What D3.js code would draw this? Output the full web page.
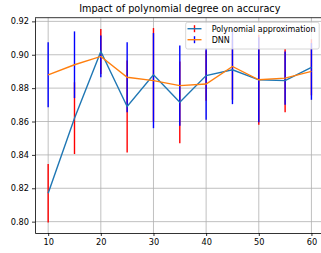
<!DOCTYPE html>
<html lang="en">
<head>
    <meta charset="UTF-8">
    <title>Polynomial degree vs accuracy</title>
    <script src="https://cdn.jsdelivr.net/npm/d3@7/dist/d3.min.js"></script>
    <style>
        body { margin: 0; background: #fff; }
        text { font-family: "DejaVu Sans", sans-serif; fill: #000; }
        .grid line { stroke: #b0b0b0; stroke-width: 0.8px; }
        .axis path, .axis line { stroke: #000; stroke-width: 0.8px; }
        .axis text { font-size: 8.2px; }
    </style>
</head>
<body>
<div id="svgcanvas"></div>
<script>

    /* global d3 */

    var degrees = [10, 15, 20, 25, 30, 35, 40, 45, 50, 55, 60];
    var polyAcc = [0.817, 0.862, 0.902, 0.869, 0.888, 0.8715, 0.8875, 0.891, 0.885, 0.8845, 0.8925];
    var polyErr = [0.0175, 0.0215, 0.0135, 0.0275, 0.028, 0.0245, 0.015, 0.018, 0.027, 0.019, 0.0168];
    var dnnAcc = [0.888, 0.894, 0.899, 0.8865, 0.8845, 0.8815, 0.8825, 0.893, 0.885, 0.886, 0.890];
    var dnnErr = [0.0195, 0.020, 0.0125, 0.021, 0.0285, 0.024, 0.0215, 0.0226, 0.0255, 0.016, 0.017];
    var xTicks = [10, 20, 30, 40, 50, 60];
    var yTicks = [0.80, 0.82, 0.84, 0.86, 0.88, 0.90, 0.92];

    var width = 321;
    var height = 253;

    var svg = d3.select("#svgcanvas").append("svg")
        .attr("width", width)
        .attr("height", height);

    var x = d3.scaleLinear().domain([7.5, 62.5]).range([35, 324.6]);
    var y = d3.scaleLinear().domain([0.7932, 0.9222]).range([233, 17.7]);

    // grid
    var grid = svg.append("g").attr("class", "grid");
    grid.selectAll("line.gx").data(xTicks).enter().append("line")
        .attr("x1", function(d) { return x(d); })
        .attr("x2", function(d) { return x(d); })
        .attr("y1", y.range()[0])
        .attr("y2", y.range()[1]);
    grid.selectAll("line.gy").data(yTicks).enter().append("line")
        .attr("x1", x.range()[0])
        .attr("x2", x.range()[1])
        .attr("y1", function(d) { return y(d); })
        .attr("y2", function(d) { return y(d); });

    function series(acc, err) {
        return degrees.map(function(d, i) {
            return {x: d, v: acc[i], lo: acc[i] - err[i], hi: acc[i] + err[i]};
        });
    }

    var poly = series(polyAcc, polyErr);
    var dnn = series(dnnAcc, dnnErr);

    function drawBars(data, color) {
        svg.append("g").selectAll("line").data(data).enter().append("line")
            .attr("x1", function(d) { return x(d.x); })
            .attr("x2", function(d) { return x(d.x); })
            .attr("y1", function(d) { return y(d.lo); })
            .attr("y2", function(d) { return y(d.hi); })
            .attr("stroke", color)
            .attr("stroke-width", 1.4);
    }

    drawBars(poly, "red");
    drawBars(dnn, "blue");

    var line = d3.line()
        .x(function(d) { return x(d.x); })
        .y(function(d) { return y(d.v); });

    svg.append("path").datum(poly)
        .attr("d", line)
        .attr("fill", "none")
        .attr("stroke", "#1f77b4")
        .attr("stroke-width", 1.4);

    svg.append("path").datum(dnn)
        .attr("d", line)
        .attr("fill", "none")
        .attr("stroke", "#ff7f0e")
        .attr("stroke-width", 1.4);

    // axes
    svg.append("g")
        .attr("class", "axis")
        .attr("transform", "translate(0," + y.range()[0] + ")")
        .call(d3.axisBottom(x).tickValues(xTicks).tickSize(3).tickPadding(3).tickSizeOuter(0));

    svg.append("g")
        .attr("class", "axis")
        .attr("transform", "translate(" + x.range()[0] + ",0)")
        .call(d3.axisLeft(y).tickValues(yTicks).tickFormat(d3.format(".2f")).tickSize(3).tickPadding(3).tickSizeOuter(0));

    // top spine
    svg.append("line")
        .attr("x1", x.range()[0]).attr("x2", x.range()[1])
        .attr("y1", y.range()[1]).attr("y2", y.range()[1])
        .attr("stroke", "#000").attr("stroke-width", 0.8);

    svg.append("text")
        .attr("x", 179.8)
        .attr("y", 12)
        .attr("text-anchor", "middle")
        .style("font-size", "9.7px")
        .text("Impact of polynomial degree on accuracy");

    // legend
    var legend = svg.append("g");
    legend.append("rect")
        .attr("x", 185.7).attr("y", 22.3)
        .attr("width", 133.5).attr("height", 26.7)
        .attr("rx", 2)
        .attr("fill", "#fff").attr("fill-opacity", 0.8)
        .attr("stroke", "#cccccc").attr("stroke-width", 0.8);

    var items = [
        {label: "Polynomial approximation", line: "#1f77b4", bar: "red"},
        {label: "DNN", line: "#ff7f0e", bar: "blue"}
    ];

    var item = legend.selectAll("g.item").data(items).enter().append("g")
        .attr("transform", function(d, i) { return "translate(0," + (28.7 + i * 11) + ")"; });
    item.append("line")
        .attr("x1", 194.5).attr("x2", 194.5).attr("y1", -3.5).attr("y2", 3.5)
        .attr("stroke", function(d) { return d.bar; }).attr("stroke-width", 1.4);
    item.append("line")
        .attr("x1", 187.5).attr("x2", 201.5).attr("y1", 0).attr("y2", 0)
        .attr("stroke", function(d) { return d.line; }).attr("stroke-width", 1.4);
    item.append("text")
        .attr("x", 211.7).attr("y", 3)
        .style("font-size", "8px")
        .text(function(d) { return d.label; });

</script>
</body>
</html>
